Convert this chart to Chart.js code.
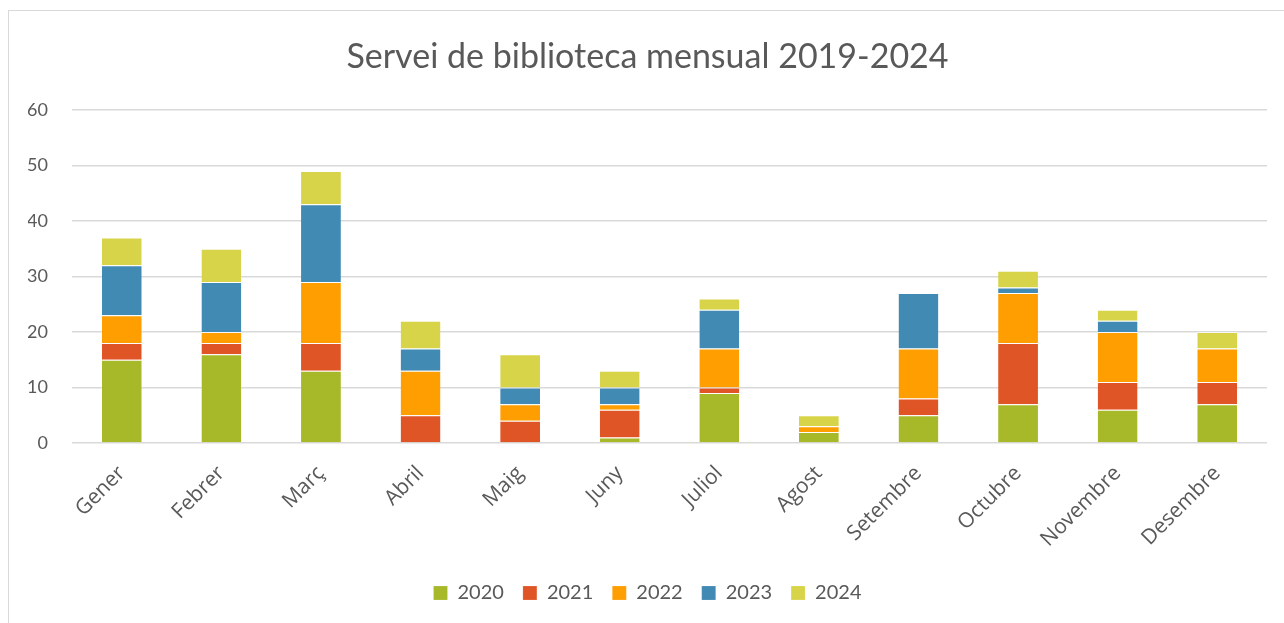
<!DOCTYPE html>
<html>
<head>
<meta charset="utf-8">
<script src="https://cdn.jsdelivr.net/npm/chart.js@4.4.0/dist/chart.umd.min.js"></script>
<style>
  html, body { margin: 0; padding: 0; background: #fff; }
  #marc {
    position: absolute; left: 8px; top: 10px;
    width: 1276px; height: 613px;
    border-left: 1.5px solid #d9d9d9; border-top: 1.5px solid #d9d9d9;
  }
  #grafic { display: block; }
</style>
</head>
<body>
<div id="marc"><canvas id="grafic" width="1275" height="612"></canvas></div>
<script>
const mesos = [
  "Gener", "Febrer", "Març", "Abril", "Maig", "Juny",
  "Juliol", "Agost", "Setembre", "Octubre", "Novembre", "Desembre",
];

// Préstecs per mes i any (apilats)
const any2020 = [15, 16, 13, 0, 0, 1, 9, 2, 5, 7, 6, 7];
const any2021 = [3, 2, 5, 5, 4, 5, 1, 0, 3, 11, 5, 4];
const any2022 = [5, 2, 11, 8, 3, 1, 7, 1, 9, 9, 9, 6];
const any2023 = [9, 9, 14, 4, 3, 3, 7, 0, 10, 1, 2, 0];
const any2024 = [5, 6, 6, 5, 6, 3, 2, 2, 0, 3, 2, 3];

const etiquetesY = [0, 10, 20, 30, 40, 50, 60];

const colors = ["#a7b828", "#e05526", "#ff9e00", "#418ab3", "#d8d449"];
const gris = "#595959";
const familia = "Lato, 'Open Sans', sans-serif";

function serie(nom, dades, color) {
  return {
    label: nom,
    data: dades,
    backgroundColor: color,
    borderColor: "rgba(255, 255, 255, 0.6)",
    borderWidth: { top: 1, bottom: 0, left: 0, right: 0 },
    borderSkipped: false,
    barPercentage: 0.4,
    categoryPercentage: 1,
  };
}

document.addEventListener("DOMContentLoaded", function () {
  const ctx = document.getElementById("grafic").getContext("2d");

  new Chart(ctx, {
    type: "bar",
    data: {
      labels: mesos,
      datasets: [
        serie("2020", any2020, colors[0]),
        serie("2021", any2021, colors[1]),
        serie("2022", any2022, colors[2]),
        serie("2023", any2023, colors[3]),
        serie("2024", any2024, colors[4]),
      ],
    },
    options: {
      responsive: false,
      animation: false,
      layout: { padding: { left: 19, right: 17, top: 0, bottom: 10 } },
      plugins: {
        title: {
          display: true,
          text: "Servei de biblioteca mensual 2019-2024",
          color: gris,
          font: { family: familia, size: 34, weight: "normal" },
          padding: { top: 26, bottom: 32 },
        },
        legend: {
          position: "bottom",
          labels: {
            color: gris,
            font: { family: familia, size: 20 },
            boxWidth: 14,
            boxHeight: 14,
            padding: 19,
          },
        },
        tooltip: { enabled: false },
      },
      scales: {
        x: {
          stacked: true,
          grid: { display: false },
          border: { display: false },
          afterFit: function (scale) {
            // no empènyer l'àrea del gràfic per l'etiqueta girada
            scale.paddingLeft = 0;
            scale.height = 121;
          },
          ticks: {
            color: gris,
            font: { family: "'Open Sans', sans-serif", size: 21 },
            maxRotation: 45,
            minRotation: 45,
            padding: 10,
          },
        },
        y: {
          stacked: true,
          min: 0,
          max: 60,
          afterBuildTicks: function (axis) {
            axis.ticks = etiquetesY.map((v) => ({ value: v }));
          },
          afterFit: function (scale) {
            scale.width = 44;
          },
          grid: { color: "#d9d9d9", lineWidth: 1.5, drawTicks: false },
          border: { display: false },
          ticks: {
            color: gris,
            font: { family: familia, size: 18 },
            padding: 24,
          },
        },
      },
    },
  });
});
</script>
</body>
</html>
